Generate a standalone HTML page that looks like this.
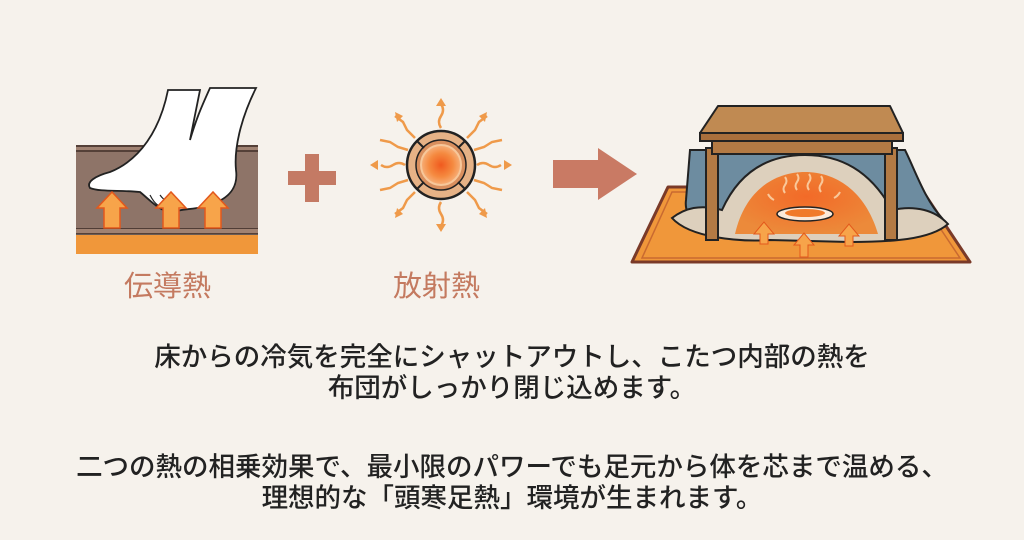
<!DOCTYPE html>
<html><head><meta charset="utf-8"><style>
html,body{margin:0;padding:0;background:#f6f2ec;}
body{width:1024px;height:540px;overflow:hidden;position:relative;font-family:"Liberation Sans","Noto Sans CJK JP",sans-serif;}
.t{position:absolute;left:0;width:1024px;text-align:center;font-size:26.5px;line-height:32px;color:#222;font-weight:500;}
.lab{position:absolute;font-size:29px;color:#c47a60;}
</style></head><body>
<svg width="1024" height="540" style="position:absolute;left:0;top:0">
<defs>
<radialGradient id="sg" cx="50%" cy="50%" r="50%"><stop offset="0" stop-color="#f05a1e"/><stop offset="0.6" stop-color="#f58a40"/><stop offset="1" stop-color="#f7b07a"/></radialGradient>
<radialGradient id="kg" cx="50%" cy="40%" r="60%"><stop offset="0" stop-color="#f26a28"/><stop offset="1" stop-color="#ec8a3a"/></radialGradient>
</defs>
<!-- floor -->
<rect x="76" y="145" width="182" height="7" fill="#a08272"/>
<line x1="76" y1="146" x2="258" y2="146" stroke="#3b2b25" stroke-width="1.5"/>
<line x1="76" y1="151" x2="258" y2="151" stroke="#3b2b25" stroke-width="1.5"/>
<rect x="76" y="152" width="182" height="77" fill="#8e7468"/>
<line x1="76" y1="229" x2="258" y2="229" stroke="#3b2b25" stroke-width="1.5"/>
<rect x="76" y="229" width="182" height="5" fill="#a08272"/>
<line x1="76" y1="234" x2="258" y2="234" stroke="#3b2b25" stroke-width="1.5"/>
<rect x="76" y="235" width="182" height="19" fill="#f0973a"/>
<!-- foot -->
<path d="M168 90 C160 130 140 160 110 172 C95 176 86 182 90 188 C100 192 120 190 140 192 C150 200 160 212 172 212 C185 208 200 210 215 203 C232 196 238 185 236 170 C234 150 240 120 256 88 L210 88 C200 110 196 120 190 140 L200 90 Z" fill="#fff" stroke="#222" stroke-width="1.8"/>
<path d="M150 195 C155 205 160 208 170 210 M160 195 C165 202 172 205 180 206" fill="none" stroke="#222" stroke-width="1.2"/>
<g fill="#f7a44a" stroke="#e3581c" stroke-width="1.5">
<path d="M104 228 V208 H97 L112 192 L127 208 H120 V228 Z"/>
<path d="M163 228 V208 H156 L171 192 L186 208 H179 V228 Z"/>
<path d="M205 228 V208 H198 L213 192 L228 208 H221 V228 Z"/>
</g>
<!-- plus -->
<rect x="288" y="171" width="48" height="14" fill="#c47a64"/>
<rect x="305" y="154" width="14" height="48" fill="#c47a64"/>
<!-- sun -->
<g stroke="#ef9a4a" stroke-width="2.5" fill="none">
<path d="M441 128 q-4 -6 0 -12 q4 -6 0 -12"/><path d="M441 202 q-4 6 0 12 q4 6 0 12"/>
<path d="M405 165 q-6 -4 -12 0 q-6 4 -12 0"/><path d="M477 165 q6 -4 12 0 q6 4 12 0"/>
<path d="M415 138 l-8 -8 l-4 -8 l-8 -6"/><path d="M467 138 l8 -8 l4 -8 l8 -6"/>
<path d="M415 192 l-8 8 l-4 8 l-8 6"/><path d="M467 192 l8 8 l4 8 l8 6"/>
<path d="M408 150 l-10 -3 l-8 -5 l-10 -2"/><path d="M474 150 l10 -3 l8 -5 l10 -2"/>
<path d="M408 180 l-10 3 l-8 5 l-10 2"/><path d="M474 180 l10 3 l8 5 l10 2"/>
</g>
<g fill="#ef9a4a">
<polygon points="441,98 436,106 446,106"/><polygon points="441,232 436,224 446,224"/>
<polygon points="370,165 378,160 378,170"/><polygon points="512,165 504,160 504,170"/>
<polygon points="395,112 397,122 403,116"/><polygon points="487,112 485,122 479,116"/>
<polygon points="395,218 397,208 403,214"/><polygon points="487,218 485,208 479,214"/>
</g>
<circle cx="441" cy="165" r="34" fill="#e6b286" stroke="#222" stroke-width="2.5"/>
<circle cx="441" cy="165" r="25" fill="#d98f5e" stroke="#222" stroke-width="1.5"/>
<circle cx="441" cy="165" r="20" fill="url(#sg)" stroke="#f7c79a" stroke-width="2"/>
<g stroke="#222" stroke-width="2"><line x1="417" y1="141" x2="424" y2="148"/><line x1="465" y1="141" x2="458" y2="148"/><line x1="417" y1="189" x2="424" y2="182"/><line x1="465" y1="189" x2="458" y2="182"/></g>
<!-- big arrow -->
<polygon points="553,160 598,160 598,148 637,174 598,200 598,188 553,188" fill="#c97a64"/>
<!-- kotatsu -->
<polygon points="668,187 920,187 970,262 632,262" fill="#f0973a" stroke="#7a3a28" stroke-width="3" stroke-linejoin="round"/>
<polygon points="672,192 916,192 960,258 642,258" fill="none" stroke="#c96a30" stroke-width="1.5"/>
<path d="M690 150 L686 200 C684 215 695 228 720 232 L880 232 C905 230 930 225 942 218 C925 200 915 170 905 150 Z" fill="#6d8ca0" stroke="#222" stroke-width="2"/>
<path d="M672 218 C690 238 740 242 770 240 L850 242 C890 242 930 240 948 224 C935 210 915 205 892 210 C870 170 840 155 805 155 C770 155 740 170 722 210 C700 204 685 208 672 218 Z" fill="#ddd0bd" stroke="#222" stroke-width="2"/>
<path d="M735 234 C745 190 775 172 805 172 C835 172 865 190 878 234 Z" fill="url(#kg)"/>
<ellipse cx="805" cy="214" rx="28" ry="7" fill="#fbe9d9" stroke="#222" stroke-width="1.5"/>
<ellipse cx="805" cy="213" rx="20" ry="4" fill="#f07a2a"/>
<g stroke="#f9c89a" stroke-width="2" fill="none">
<path d="M785 193 q-3 -4 0 -8 q3 -4 0 -8"/><path d="M797 190 q-3 -4 0 -8 q3 -4 0 -8"/><path d="M809 190 q-3 -4 0 -8 q3 -4 0 -8"/><path d="M821 192 q-3 -4 0 -8 q3 -4 0 -8"/><path d="M774 200 q-4 -2 -6 -6"/><path d="M834 198 q4 -2 6 -6"/>
</g>
<g fill="#f7a44a" stroke="#e3581c" stroke-width="1">
<path d="M760 244 V234 H754 L764 222 L774 234 H768 V244 Z"/>
<path d="M800 257 V245 H794 L804 233 L814 245 H808 V257 Z"/>
<path d="M845 246 V236 H839 L849 224 L859 236 H853 V246 Z"/>
</g>
<rect x="706" y="148" width="12" height="92" fill="#b37a44" stroke="#222" stroke-width="2"/>
<rect x="885" y="148" width="12" height="92" fill="#b37a44" stroke="#222" stroke-width="2"/>
<rect x="712" y="140" width="180" height="14" fill="#b37a44" stroke="#222" stroke-width="2"/>
<polygon points="718,106 890,106 903,133 700,133" fill="#c08a52" stroke="#222" stroke-width="2" stroke-linejoin="round"/>
<rect x="700" y="133" width="203" height="8" fill="#a96f3c" stroke="#222" stroke-width="2"/>
</svg>
<div class="lab" style="left:124px;top:263px">伝導熱</div>
<div class="lab" style="left:393px;top:263px">放射熱</div>
<div class="t" style="top:341px">床からの冷気を完全にシャットアウトし、こたつ内部の熱を</div>
<div class="t" style="top:372px">布団がしっかり閉じ込めます。</div>
<div class="t" style="top:451px">二つの熱の相乗効果で、最小限のパワーでも足元から体を芯まで温める、</div>
<div class="t" style="top:482px">理想的な「頭寒足熱」環境が生まれます。</div>
</body></html>
